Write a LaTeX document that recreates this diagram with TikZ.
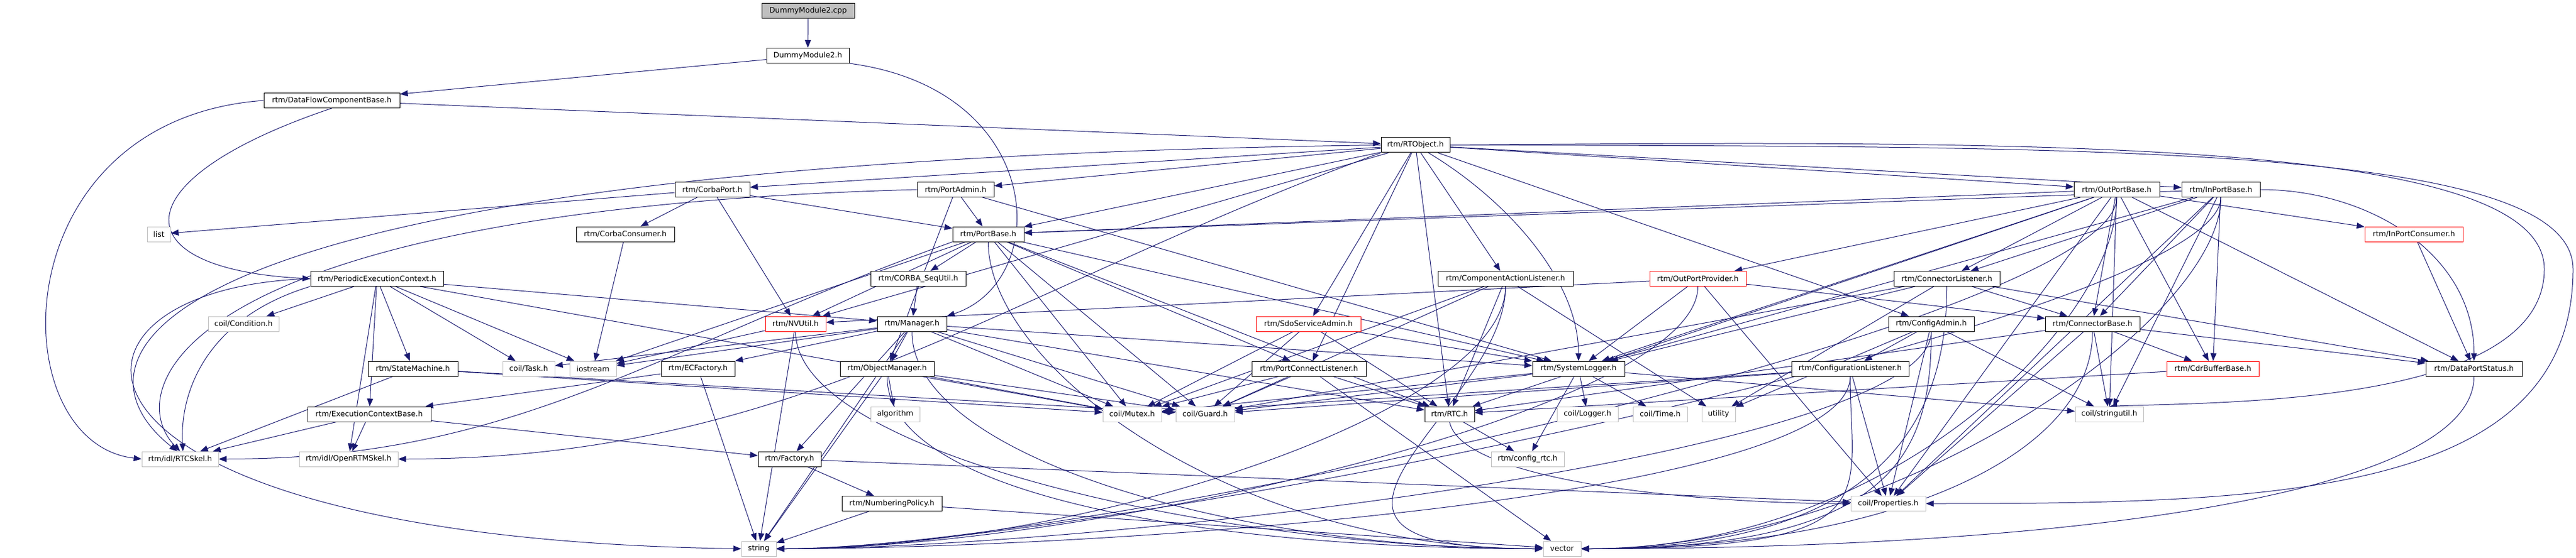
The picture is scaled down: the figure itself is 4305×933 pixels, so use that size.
\documentclass[tikz,border=0pt]{standalone}
\usepackage{fontspec}
\setmainfont{DejaVu Sans}
\usetikzlibrary{arrows.meta}
\usetikzlibrary{backgrounds}
\definecolor{depblue}{HTML}{191970}
\definecolor{extgray}{HTML}{BFBFBF}
\definecolor{truncred}{HTML}{FF0000}
\tikzset{
    hdr/.style = {rectangle, draw=black, fill=white, line width=1pt, minimum width=#1, minimum height=25pt, inner sep=0pt, font=\fontsize{12.5pt}{15pt}\selectfont},
    ext/.style = {hdr=#1, draw=extgray},
    trunc/.style = {hdr=#1, draw=truncred},
    src/.style = {hdr=#1, fill=extgray},
    dep/.style = {draw=depblue, line width=1pt, -{Triangle[length=13pt,width=10pt]}}}

\begin{document}
\begin{tikzpicture}[x=1pt, y=1pt]
    \useasboundingbox (0,0) rectangle (4305,-933);
    \node[src=155] (cpp) at (1350.5,-18.5) {DummyModule2.cpp};
    \node[hdr=138] (dmh) at (1350,-93) {DummyModule2.h};
    \node[hdr=227] (dfcb) at (554.5,-168) {rtm/DataFlowComponentBase.h};
    \node[hdr=115] (rtobj) at (2365.5,-242.5) {rtm/RTObject.h};
    \node[hdr=125] (corbaport) at (1190.5,-317) {rtm/CorbaPort.h};
    \node[hdr=128] (portadmin) at (1597,-317) {rtm/PortAdmin.h};
    \node[hdr=143] (outportbase) at (3537.5,-317) {rtm/OutPortBase.h};
    \node[hdr=131] (inportbase) at (3711.5,-317) {rtm/InPortBase.h};
    \node[ext=39] (list) at (265.5,-391.5) {list};
    \node[hdr=164] (corbaconsumer) at (1045,-391.5) {rtm/CorbaConsumer.h};
    \node[hdr=119] (portbase) at (1651.5,-391.5) {rtm/PortBase.h};
    \node[trunc=164] (inportconsumer) at (4034,-391.5) {rtm/InPortConsumer.h};
    \node[hdr=222] (pec) at (630,-466) {rtm/PeriodicExecutionContext.h};
    \node[hdr=159] (sequtil) at (1534.5,-466) {rtm/CORBA\_SeqUtil.h};
    \node[hdr=226] (cal) at (2516,-466) {rtm/ComponentActionListener.h};
    \node[trunc=161] (outportprovider) at (2837.5,-466) {rtm/OutPortProvider.h};
    \node[hdr=177] (connlistener) at (3253.5,-466) {rtm/ConnectorListener.h};
    \node[ext=118] (condition) at (407,-541.5) {coil/Condition.h};
    \node[trunc=101] (nvutil) at (1329.5,-541.5) {rtm/NVUtil.h};
    \node[hdr=116] (manager) at (1524,-541.5) {rtm/Manager.h};
    \node[trunc=175] (sdoadmin) at (2186.5,-541.5) {rtm/SdoServiceAdmin.h};
    \node[hdr=143] (configadmin) at (3227.5,-541.5) {rtm/ConfigAdmin.h};
    \node[hdr=158] (connbase) at (3497,-541.5) {rtm/ConnectorBase.h};
    \node[hdr=150] (statemachine) at (690,-616.5) {rtm/StateMachine.h};
    \node[ext=87] (task) at (883.5,-616.5) {coil/Task.h};
    \node[ext=78] (iostream) at (991,-616.5) {iostream};
    \node[hdr=123] (ecfactory) at (1166.5,-616.5) {rtm/ECFactory.h};
    \node[hdr=157] (objmanager) at (1482.5,-616.5) {rtm/ObjectManager.h};
    \node[hdr=191] (pcl) at (2187.5,-616.5) {rtm/PortConnectListener.h};
    \node[hdr=154] (syslogger) at (2638,-616.5) {rtm/SystemLogger.h};
    \node[hdr=196] (conflistener) at (3092,-616.5) {rtm/ConfigurationListener.h};
    \node[trunc=154] (cdrbuffer) at (3698,-616.5) {rtm/CdrBufferBase.h};
    \node[hdr=161] (dpstatus) at (4134.5,-616.5) {rtm/DataPortStatus.h};
    \node[hdr=206] (ecbase) at (617,-692.5) {rtm/ExecutionContextBase.h};
    \node[ext=82] (algorithm) at (1496,-692.5) {algorithm};
    \node[ext=98] (mutex) at (1892,-692.5) {coil/Mutex.h};
    \node[ext=98] (guard) at (2014,-692.5) {coil/Guard.h};
    \node[hdr=83] (rtc) at (2422.5,-692.5) {rtm/RTC.h};
    \node[ext=102] (logger) at (2653,-692.5) {coil/Logger.h};
    \node[ext=91] (time) at (2774.5,-692.5) {coil/Time.h};
    \node[ext=56] (utility) at (2872,-692.5) {utility};
    \node[ext=114] (stringutil) at (3525,-692.5) {coil/stringutil.h};
    \node[ext=128] (rtcskel) at (301,-767.5) {rtm/idl/RTCSkel.h};
    \node[ext=165] (openrtmskel) at (582.5,-767.5) {rtm/idl/OpenRTMSkel.h};
    \node[hdr=105] (factory) at (1319.5,-767.5) {rtm/Factory.h};
    \node[ext=122] (configrtc) at (2553,-767.5) {rtm/config\_rtc.h};
    \node[hdr=167] (numbering) at (1490.5,-842) {rtm/NumberingPolicy.h};
    \node[ext=125] (properties) at (3155.5,-842) {coil/Properties.h};
    \node[ext=58] (string) at (1268,-917.5) {string};
    \node[ext=63] (vector) at (2610.5,-917.5) {vector};
    \begin{pgfonlayer}{background}
    \foreach \s/\t in {cpp/dmh, dmh/dfcb, dfcb/rtobj,
        rtobj/corbaport, rtobj/portadmin, rtobj/portbase, rtobj/outportbase, rtobj/inportbase,
        rtobj/cal, rtobj/sdoadmin, rtobj/pcl, rtobj/nvutil, rtobj/rtc, rtobj/configadmin,
        corbaport/corbaconsumer, corbaport/nvutil, corbaport/portbase, corbaport/list,
        portadmin/portbase, portadmin/objmanager, portadmin/syslogger,
        portbase/sequtil, portbase/nvutil, portbase/iostream, portbase/pcl, portbase/rtc,
        portbase/mutex, portbase/guard, portbase/syslogger,
        pec/condition, pec/task, pec/iostream, pec/statemachine, pec/ecbase, pec/manager,
        pec/openrtmskel, pec/mutex, sequtil/manager, corbaconsumer/iostream,
        manager/ecfactory, manager/objmanager, manager/task, manager/iostream, manager/factory,
        manager/mutex, manager/guard, manager/rtc, manager/syslogger, manager/string,
        nvutil/iostream, nvutil/string, ecfactory/ecbase, ecfactory/string,
        objmanager/algorithm, objmanager/mutex, objmanager/guard, objmanager/string,
        statemachine/mutex, statemachine/guard, statemachine/rtcskel,
        ecbase/rtcskel, ecbase/openrtmskel, ecbase/factory,
        factory/numbering, factory/properties, numbering/string, numbering/vector,
        sdoadmin/syslogger, sdoadmin/mutex, sdoadmin/guard, sdoadmin/rtc,
        pcl/rtc, pcl/mutex, pcl/guard, pcl/vector,
        cal/rtc, cal/mutex, cal/guard, cal/utility,
        syslogger/logger, syslogger/time, syslogger/configrtc, syslogger/mutex, syslogger/guard,
        syslogger/stringutil, rtc/configrtc,
        configadmin/conflistener, configadmin/properties, configadmin/stringutil, configadmin/utility,
        conflistener/properties, conflistener/guard, conflistener/mutex,
        connlistener/connbase, connlistener/dpstatus, connlistener/utility, connlistener/guard,
        connlistener/syslogger,
        connbase/cdrbuffer, connbase/dpstatus, connbase/stringutil, connbase/properties, connbase/rtc,
        cdrbuffer/rtc, inportconsumer/dpstatus,
        outportprovider/nvutil, outportprovider/syslogger, outportprovider/connbase,
        outportprovider/properties,
        outportbase/portbase, outportbase/outportprovider, outportbase/inportconsumer,
        outportbase/connlistener, outportbase/connbase, outportbase/cdrbuffer, outportbase/dpstatus,
        outportbase/syslogger, outportbase/stringutil, outportbase/properties, outportbase/rtc,
        inportbase/portbase, inportbase/connlistener, inportbase/connbase, inportbase/cdrbuffer,
        inportbase/stringutil, inportbase/syslogger, inportbase/properties}
        \draw[dep] (\s) -- (\t);
    \foreach \s in {cal, configadmin, conflistener, outportbase, inportbase, outportprovider}
        \draw[dep] (\s) .. controls +(0,-220) and +(520,0) .. (string.east);
    \foreach \s in {portbase, objmanager, manager, cal, nvutil}
        \draw[dep] (\s) .. controls +(0,-220) and +(-520,0) .. (vector.west);
    \foreach \s in {configadmin, conflistener, connbase, outportbase, inportbase, connlistener}
        \draw[dep] (\s) .. controls +(0,-220) and +(520,0) .. (vector.east);
    \draw[dep] (dmh.south east) .. controls (1750,-150) and (1760,-470) .. (manager.north east);
    \draw[dep] (dfcb.west) .. controls (0,-200) and (0,-740) .. (rtcskel.west);
    \draw[dep] (dfcb.south) .. controls (200,-300) and (200,-450) .. (pec.west);
    \draw[dep] (rtobj.west) .. controls (200,-270) and (100,-600) .. (rtcskel.110);
    \draw[dep] (portadmin.west) .. controls (300,-350) and (200,-650) .. (rtcskel.north);
    \draw[dep] (pec.south west) .. controls (350,-530) and (300,-650) .. (rtcskel.70);
    \draw[dep] (pec.west) .. controls (40,-480) and (40,-900) .. (string.west);
    \draw[dep] (portbase.south west) .. controls +(-500,-180) and +(500,0) .. (rtcskel.east);
    \draw[dep] (rtobj.south west) .. controls +(-630,-230) and +(670,0) .. (openrtmskel.east);
    \draw[dep] (rtobj) .. controls +(150,-90) and +(0,150) .. (syslogger);
    \draw[dep] (rtc.south) .. controls +(20,-100) and +(-250,0) .. (properties.west);
    \draw[dep] (rtobj.east) .. controls (3500,-245) and (4300,-240) .. (4300,-450) .. controls (4300,-830) and (3800,-842) .. (properties.east);
    \draw[dep] (rtobj.east) .. controls (3400,-235) and (4252,-230) .. (4252,-450) .. controls (4252,-680) and (3700,-672) .. (stringutil.north);
    \draw[dep] (inportbase.east) .. controls +(180,0) and +(0,180) .. (dpstatus.north);
    \draw[dep] (dpstatus.south) .. controls +(0,-200) and +(800,0) .. (vector.east);
    \end{pgfonlayer}
\end{tikzpicture}
\end{document}
